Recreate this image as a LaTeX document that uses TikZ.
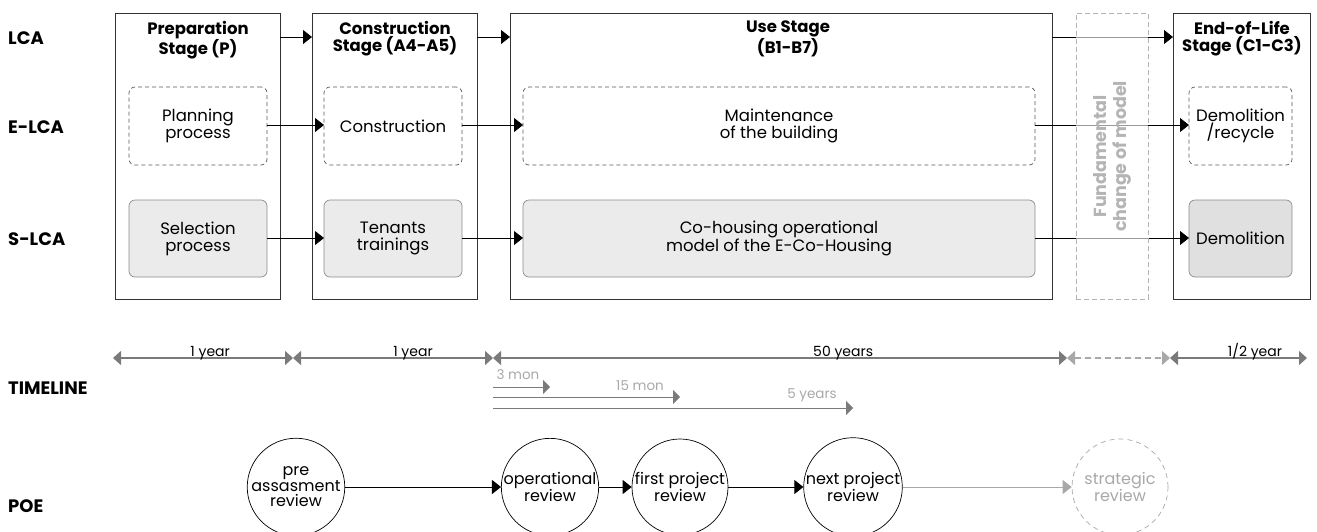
\documentclass[tikz,border=0pt]{standalone}
\usepackage{fontspec}
\setmainfont{Poppins}
\usetikzlibrary{arrows.meta,calc}
\definecolor{boxgray}{HTML}{EBEBEB}
\definecolor{boxgray2}{HTML}{E0E0E0}
\definecolor{tlgray}{HTML}{7A7A7A}
\definecolor{ltgray}{HTML}{A8A8A8}
\definecolor{fundgray}{HTML}{B4B4B4}
\tikzset{
  stage/.style={draw=black!80, line width=0.9pt, inner sep=0pt, outer sep=0pt, anchor=north west},
  dashbox/.style={draw=black!65, dashed, dash pattern=on 4pt off 3pt, line width=0.7pt, rounded corners=6pt, inner sep=0pt, outer sep=0pt, anchor=north west},
  graybox/.style={draw=black!45, fill=boxgray, line width=0.7pt, rounded corners=6pt, inner sep=0pt, outer sep=0pt, anchor=north west},
  intext/.style={align=center, font=\fontsize{16.5}{17}\selectfont, inner sep=0pt},
  title/.style={font=\bfseries\fontsize{16.5}{17}\selectfont, align=center, anchor=north, inner sep=0pt},
  rowlab/.style={font=\bfseries\fontsize{18}{18}\selectfont, anchor=west, inner sep=0pt},
  arr/.style={-{Triangle[length=9pt,width=14pt]}, line width=0.8pt, black},
  tl/.style={{Triangle[length=8pt,width=14pt]}-{Triangle[length=8pt,width=14pt]}, line width=1.4pt, draw=tlgray, fill=tlgray},
  tlab/.style={font=\fontsize{14}{14}\selectfont, anchor=base, inner sep=0pt, yshift=2pt},
  sub/.style={-{Triangle[length=7pt,width=14pt]}, line width=0.9pt, draw=tlgray, fill=tlgray},
  sublab/.style={font=\fontsize{13.5}{14}\selectfont, text=ltgray, inner sep=0pt},
  poe/.style={circle, draw=black, line width=0.7pt, minimum size=96pt, inner sep=0pt, align=center, font=\fontsize{16}{15.5}\selectfont},
}
\begin{document}
\begin{tikzpicture}[x=1pt,y=-1pt]
\useasboundingbox (0,0) rectangle (1317,531);
% row labels
\node[rowlab] (lLCA) at (8,38) {LCA};
\node[rowlab] (lELCA) at (8,127) {E-LCA};
\node[rowlab] (lSLCA) at (8,239) {S-LCA};
\node[rowlab] (lTL) at (8,388) {TIMELINE};
\node[rowlab] (lPOE) at (8,506) {POE};
% row coordinates
\coordinate (r1) at (0,37);
\coordinate (r2) at (0,125);
\coordinate (r3) at (0,238);
% stage boxes
\node[stage, minimum width=165pt, minimum height=286pt] (prep) at (115,13) {};
\node[stage, minimum width=165pt, minimum height=286pt] (cons) at (312,13) {};
\node[stage, minimum width=542pt, minimum height=286pt] (use) at (510,13) {};
\node[stage, minimum width=137pt, minimum height=286pt] (eol) at (1173,13) {};
\node[title] (tprep) at (198,21) {Preparation\\Stage (P)};
\node[title] (tcons) at (395,21) {Construction\\Stage (A4-A5)};
\node[title] (tuse) at (788,21) {Use Stage\\(B1-B7)};
\node[title] (teol) at (1242,21) {End-of-Life\\Stage (C1-C3)};
% inner boxes
\node[dashbox, minimum width=138pt, minimum height=78pt] (plan) at (129,87) {};
\node[intext] (tplan) at (plan.center) {Planning\\process};
\node[dashbox, minimum width=138pt, minimum height=78pt] (const) at (324,87) {};
\node[intext] (tconst) at (const.center) {Construction};
\node[dashbox, minimum width=512pt, minimum height=78pt] (maint) at (523,87) {};
\node[intext] (tmaint) at (maint.center) {Maintenance\\of the building};
\node[dashbox, minimum width=103pt, minimum height=78pt] (demrec) at (1189,87) {};
\node[intext] (tdemrec) at (demrec.center) {Demolition\\/recycle};
\node[graybox, minimum width=138pt, minimum height=77pt] (sel) at (129,200) {};
\node[intext] (tsel) at (sel.center) {Selection\\process};
\node[graybox, minimum width=138pt, minimum height=77pt] (ten) at (324,200) {};
\node[intext] (tten) at (ten.center) {Tenants\\trainings};
\node[graybox, minimum width=512pt, minimum height=77pt] (coh) at (523,200) {};
\node[intext] (tcoh) at (coh.center) {Co-housing operational\\model of the E-Co-Housing};
\node[graybox, fill=boxgray2, minimum width=103pt, minimum height=77pt] (dem) at (1189,200) {};
\node[intext] (tdem) at (dem.center) {Demolition};
% arrows
\draw[arr] (prep.east |- r1) -- (cons.west |- r1);
\draw[arr] (cons.east |- r1) -- (use.west |- r1);
\draw[arr] (use.east |- r1) -- (eol.west |- r1);
\draw[arr] (plan.east |- r2) -- (const.west |- r2);
\draw[arr] (const.east |- r2) -- (maint.west |- r2);
\draw[arr] (maint.east |- r2) -- (demrec.west |- r2);
\draw[arr] (sel.east |- r3) -- (ten.west |- r3);
\draw[arr] (ten.east |- r3) -- (coh.west |- r3);
\draw[arr] (coh.east |- r3) -- (dem.west |- r3);
% fundamental change
\node[draw=fundgray, dashed, dash pattern=on 5pt off 3pt, line width=0.8pt, fill=white, fill opacity=0.6, text opacity=1, minimum width=72pt, minimum height=286pt, anchor=north west, inner sep=0pt] (fund) at (1076,13) {};
\node[rotate=90, text=fundgray, font=\bfseries\fontsize{17.5}{20}\selectfont, align=center, inner sep=0pt] (tfund) at ($(fund.center)+(0,0)$) {Fundamental\\change of model};
% timeline
\coordinate (t0) at (113,358);
\coordinate (t1) at (293,358);
\coordinate (t2) at (493,358);
\coordinate (t3) at (1067,358);
\coordinate (t4) at (1170,358);
\coordinate (t5) at (1307,358);
\draw[tl] (t0) -- node[tlab, pos=0.54] (y1) {1 year} (t1);
\draw[tl] (t1) -- node[tlab, pos=0.6] (y2) {1 year} (t2);
\draw[tl] (t2) -- node[tlab, pos=0.61] (y3) {50 years} (t3);
\draw[tl, draw=ltgray, fill=ltgray, dashed, dash pattern=on 6pt off 4pt, line width=1.1pt] (t3) -- (t4);
\draw[tl] (t4) -- node[tlab, pos=0.62] (y4) {1/2 year} (t5);
% sub timeline
\coordinate (s0a) at (493,387);
\coordinate (s0b) at (493,397);
\coordinate (s0c) at (493,408);
\coordinate (s1) at (550,387);
\coordinate (s2) at (680,397);
\coordinate (s3) at (853,408);
\draw[sub] (s0a) -- (s1);
\draw[sub] (s0b) -- (s2);
\draw[sub] (s0c) -- (s3);
\node[sublab] (m3) at (518,375) {3 mon};
\node[sublab] (m15) at (640,386) {15 mon};
\node[sublab] (y5) at (812,395) {5 years};
% POE
\node[poe] (pre) at (296,487) {pre\\assasment\\review};
\node[poe] (op) at (550,487) {operational\\review};
\node[poe] (fp) at (680,487) {first project\\review};
\node[poe] (np) at (853,487) {next project\\review};
\node[poe, draw=ltgray, dashed, dash pattern=on 5pt off 4pt, text=ltgray] (sr) at (1120,487) {strategic\\review};
\draw[arr] (pre) -- (op);
\draw[arr] (op) -- (fp);
\draw[arr] (fp) -- (np);
\draw[-{Triangle[length=9pt,width=14pt]}, line width=0.8pt, draw=ltgray, fill=ltgray] (np) -- (sr);
\end{tikzpicture}
\end{document}
